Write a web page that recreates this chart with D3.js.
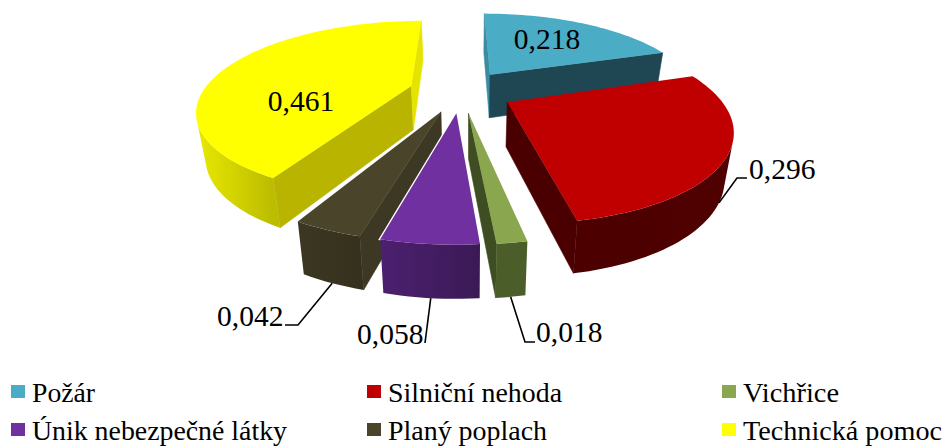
<!DOCTYPE html>
<html>
<head>
<meta charset="utf-8">
<script src="https://cdn.jsdelivr.net/npm/d3@7"></script>
<style>
html, body { margin: 0; padding: 0; background: #fff; }
text { font-family: "Liberation Serif", serif; fill: #000; }
</style>
</head>
<body>
<svg id="chart" width="944" height="448"></svg>
<script>
var categories = ["Požár", "Silniční nehoda", "Vichřice", "Únik nebezpečné látky", "Planý poplach", "Technická pomoc"];
var values = [0.218, 0.296, 0.018, 0.058, 0.042, 0.461];

var topColors = ["#4bacc6", "#c00000", "#8aa64e", "#7030a0", "#4a452a", "#ffff00"];
var startFaces = ["#3b8ba1", "#4a0000", "#3e4d22", "#4a2069", "#3d3823", "#b8b400"];
var endFaces = ["#1f4653", "#4a0000", "#3e4d22", "#4a2069", "#38331f", "#e4e400"];
var arcFrom = ["#1f4653", "#500000", "#4b5e2a", "#3b1955", "#36311e", "#bcbc00"];
var arcTo = ["#1f4653", "#4c0000", "#4b5e2a", "#4c2070", "#3c3722", "#e8e800"];

// far slices first so the near ones paint over them
var drawOrder = [0, 5, 4, 3, 2, 1];

// label anchors and legend grid
var labelPos = [[547, 49], [749, 179], [536, 342], [357, 344], [217, 326], [301, 111]];
var labelInside = [true, false, false, false, false, true];
var legendX = [11, 367, 722];
var legendY = [385, 423];
var legendWidths = [63, 174, 96, 255, 159, 199];

// camera
var cx = 461, cy = 91, scaleX = 208, scaleY = 84, persp = 0.254, explode = 0.25;

function project(x, y) {
	var w = 1 + persp * y;
	return [cx + scaleX * x / w, cy - scaleY * y / w];
}
// where a top point lands once pushed down to the underside
function extrude(p) {
	return [p[0] + (470 - p[0]) * 0.035, p[1] + 38 + 0.066 * p[1]];
}
function polar(angle, r, bisector) {
	return project(r * Math.sin(angle) + explode * Math.sin(bisector), r * Math.cos(angle) + explode * Math.cos(bisector));
}
function signedArea(pts) {
	var s = 0;
	for (var i = 0; i < pts.length; i++) {
		var a = pts[i], b = pts[(i + 1) % pts.length];
		s += a[0] * b[1] - b[0] * a[1];
	}
	return s;
}

var svg = d3.select("#chart");
var defs = svg.append("defs");
var line = d3.line();
var pie = d3.pie().sort(null).startAngle(0).endAngle(2 * Math.PI);
var slices = pie(values);

function drawQuad(g, p, q, color) {
	var quad = [p, q, extrude(q), extrude(p)];
	if (signedArea(quad) >= 0) return;
	g.append("path").attr("d", line(quad) + "Z").attr("fill", color).attr("stroke", color).attr("stroke-width", 0.6);
}

drawOrder.forEach(function(i) {
	var s = slices[i];
	var mid = (s.startAngle + s.endAngle) / 2;
	var g = svg.append("g");
	var apex = polar(0, 0, mid);
	var steps = Math.max(4, Math.round((s.endAngle - s.startAngle) / 0.03));
	var angle = d3.scaleLinear().domain([0, steps]).range([s.startAngle, s.endAngle]);
	var rim = d3.range(steps + 1).map(function(k) { return polar(angle(k), 1, mid); });

	// thin white edge keeps the narrow wedges apart from their neighbours
	if (i >= 2 && i <= 4) {
		g.append("path").attr("d", line([apex].concat(rim)) + "Z").attr("fill", "none").attr("stroke", "#fff").attr("stroke-width", 2.5);
	}

	drawQuad(g, apex, rim[0], startFaces[i]);
	drawQuad(g, rim[steps], apex, endFaces[i]);

	// the outer wall is one shape, shaded across by a gradient
	var front = rim.filter(function(p, k) {
		var q = rim[k + 1] || p, prev = rim[k - 1] || p;
		return signedArea([prev, q, extrude(q), extrude(prev)]) < 0;
	});
	if (front.length > 1) {
		var grad = defs.append("linearGradient").attr("id", "wall" + i)
			.attr("gradientUnits", "userSpaceOnUse")
			.attr("x1", front[0][0]).attr("y1", 0)
			.attr("x2", front[front.length - 1][0]).attr("y2", 0);
		grad.append("stop").attr("offset", 0).attr("stop-color", arcFrom[i]);
		grad.append("stop").attr("offset", 1).attr("stop-color", arcTo[i]);
		var wall = front.concat(front.map(extrude).reverse());
		g.append("path").attr("d", line(wall) + "Z").attr("fill", "url(#wall" + i + ")");
	}
	g.append("path").attr("d", line([apex].concat(rim)) + "Z").attr("fill", topColors[i]);
});

// leader lines run from the underside of each outer rim to its label
var leaderBend = [null, [737, 178], [525, 342], null, [298, 325], null];
var leaderEnd = [null, [747, 178], [535, 342], [425, 343], [285, 325], null];
slices.forEach(function(s, i) {
	if (!leaderEnd[i]) return;
	var mid = (s.startAngle + s.endAngle) / 2;
	var from = extrude(polar(mid, 1, mid));
	var pts = [from];
	if (leaderBend[i]) pts.push(leaderBend[i]);
	pts.push(leaderEnd[i]);
	svg.append("path").attr("d", line(pts)).attr("fill", "none").attr("stroke", "#000").attr("stroke-width", 1.6);
});

svg.selectAll("text.value").data(values).enter().append("text")
	.attr("class", "value")
	.attr("x", function(d, i) { return labelPos[i][0]; })
	.attr("y", function(d, i) { return labelPos[i][1]; })
	.attr("text-anchor", function(d, i) { return labelInside[i] ? "middle" : "start"; })
	.attr("font-size", 29.5)
	.text(function(d) { return d.toFixed(3).replace(".", ","); });

var legend = svg.selectAll("g.legend").data(categories).enter().append("g")
	.attr("class", "legend")
	.attr("transform", function(d, i) { return "translate(" + legendX[i % 3] + "," + legendY[Math.floor(i / 3)] + ")"; });
legend.append("rect").attr("width", 14).attr("height", 13).attr("fill", function(d, i) { return topColors[i]; });
legend.append("text").attr("x", 21).attr("y", 17).attr("font-size", 28)
	.attr("textLength", function(d, i) { return legendWidths[i]; })
	.attr("lengthAdjust", "spacingAndGlyphs")
	.text(function(d) { return d; });
</script>
</body>
</html>
